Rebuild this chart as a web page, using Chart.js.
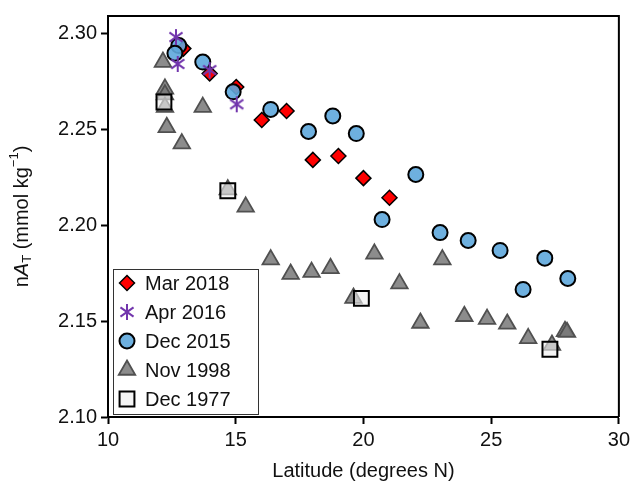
<!DOCTYPE html>
<html>
<head>
<meta charset="utf-8">
<script src="https://cdn.jsdelivr.net/npm/chart.js@4/dist/chart.umd.min.js"></script>
<style>
  html, body { margin: 0; padding: 0; background: #fff; }
</style>
</head>
<body>
<canvas id="chart" width="634" height="483"></canvas>
<script>
// values
const mar2018Lat = [12.95, 13.98, 15.02, 16.02, 16.99, 18.02, 19.02, 20.0, 21.02];
const mar2018Val = [2.292, 2.279, 2.272, 2.2548, 2.2595, 2.234, 2.236, 2.2245, 2.2143];

const apr2016Lat = [12.66, 12.73, 13.98, 15.04];
const apr2016Val = [2.298, 2.284, 2.2808, 2.263];

const dec2015Lat = [12.77, 12.62, 13.71, 14.9, 16.37, 17.85, 18.8, 19.72, 22.05, 20.73, 23.0, 24.1, 25.35, 27.1, 26.25, 28.0];
const dec2015Val = [2.2936, 2.2896, 2.285, 2.2695, 2.2603, 2.2488, 2.2569, 2.2477, 2.2264, 2.2029, 2.1961, 2.192, 2.1868, 2.1828, 2.1665, 2.1722];

const nov1998Lat = [12.15, 12.23, 12.23, 12.23, 12.3, 12.89, 13.71, 14.69, 15.39, 16.37, 17.15, 17.97, 18.71, 19.61, 20.43, 21.41, 22.23, 23.09, 23.95, 24.84, 25.63, 26.45, 27.38, 27.89, 27.97];
const nov1998Val = [2.285, 2.271, 2.268, 2.2615, 2.251, 2.2425, 2.2615, 2.2185, 2.2095, 2.182, 2.1745, 2.1755, 2.1775, 2.162, 2.185, 2.1695, 2.149, 2.182, 2.1525, 2.151, 2.1485, 2.141, 2.1375, 2.1447, 2.1442];

const dec1977Lat = [12.19, 14.69, 19.92, 27.3];
const dec1977Val = [2.2642, 2.2179, 2.1618, 2.1353];

const xTicks = [10, 15, 20, 25, 30];
const yTicks = [2.10, 2.15, 2.20, 2.25, 2.30];

const FONT = 'Liberation Sans, Arial, sans-serif';
const toPoints = (xs, ys) => xs.map((x, i) => ({ x: x, y: ys[i] }));

// six-armed asterisk marker
function makeAsterisk(size, color) {
    const c = document.createElement('canvas');
    c.width = size; c.height = size;
    const g = c.getContext('2d');
    const r = size / 2 - 1;
    g.strokeStyle = color;
    g.lineWidth = 2;
    g.translate(size / 2, size / 2);
    [0, 55, -55].forEach(deg => {
        const a = deg * Math.PI / 180;
        g.beginPath();
        g.moveTo(Math.sin(a) * r, -Math.cos(a) * r);
        g.lineTo(-Math.sin(a) * r, Math.cos(a) * r);
        g.stroke();
    });
    return c;
}
const asterisk = makeAsterisk(18, '#7236ad');

const datasets = [
    { label: 'Mar 2018', data: toPoints(mar2018Lat, mar2018Val), pointStyle: 'rectRot', pointRadius: 7.5,
      backgroundColor: '#ff0000', borderColor: '#000', borderWidth: 1.5, order: 2 },
    { label: 'Apr 2016', data: toPoints(apr2016Lat, apr2016Val), pointStyle: asterisk, pointRadius: 9,
      backgroundColor: '#7236ad', borderColor: '#7236ad', borderWidth: 0, order: 0 },
    { label: 'Dec 2015', data: toPoints(dec2015Lat, dec2015Val), pointStyle: 'circle', pointRadius: 7.5,
      backgroundColor: 'rgba(94,167,220,0.9)', borderColor: '#000', borderWidth: 2, order: 1 },
    { label: 'Nov 1998', data: toPoints(nov1998Lat, nov1998Val), pointStyle: 'triangle', pointRadius: 9.5,
      backgroundColor: 'rgba(120,120,120,0.85)', borderColor: '#505050', borderWidth: 1.8, order: 4 },
    { label: 'Dec 1977', data: toPoints(dec1977Lat, dec1977Val), pointStyle: 'rect', pointRadius: 10.5,
      backgroundColor: 'rgba(238,238,238,0.6)', borderColor: '#000', borderWidth: 2, order: 3 }
];

// frame, rotated y title with sub/superscript, legend inside the plot
const extras = {
    id: 'extras',
    afterDraw(chart) {
        const ctx = chart.ctx;
        const a = chart.chartArea;
        ctx.save();
        ctx.strokeStyle = '#000';
        ctx.lineWidth = 2;
        ctx.beginPath();
        ctx.moveTo(a.left, a.top);
        ctx.lineTo(a.right, a.top);
        ctx.lineTo(a.right, a.bottom);
        ctx.stroke();

        // y title
        const parts = [
            { t: 'n', f: '20px ' + FONT, dy: 0 },
            { t: 'A', f: 'italic 20px ' + FONT, dy: 0 },
            { t: 'T', f: '13px ' + FONT, dy: 5 },
            { t: ' (mmol kg', f: '20px ' + FONT, dy: 0 },
            { t: '\u22121', f: '13px ' + FONT, dy: -8 },
            { t: ')', f: '20px ' + FONT, dy: 0 }
        ];
        let total = 0;
        parts.forEach(p => { ctx.font = p.f; p.w = ctx.measureText(p.t).width; total += p.w; });
        ctx.translate(22, (a.top + a.bottom) / 2);
        ctx.rotate(-Math.PI / 2);
        ctx.fillStyle = '#111';
        ctx.textBaseline = 'middle';
        let px = -total / 2;
        parts.forEach(p => { ctx.font = p.f; ctx.fillText(p.t, px, p.dy); px += p.w; });
        ctx.restore();

        // legend
        ctx.save();
        const bx = 113, by = 269, bw = 145, bh = 145;
        ctx.fillStyle = '#fff';
        ctx.fillRect(bx, by, bw, bh);
        ctx.strokeStyle = '#333';
        ctx.lineWidth = 1;
        ctx.strokeRect(bx + 0.5, by + 0.5, bw, bh);
        const legendOrder = [0, 1, 2, 3, 4];
        legendOrder.forEach((di, i) => {
            const ds = chart.data.datasets[di];
            const y = by + 14 + i * 29;
            ctx.fillStyle = ds.backgroundColor;
            ctx.strokeStyle = ds.borderColor;
            ctx.lineWidth = ds.borderWidth;
            Chart.helpers.drawPoint(ctx, { pointStyle: ds.pointStyle, radius: ds.pointRadius, rotation: 0, borderWidth: ds.borderWidth }, 127, y);
            ctx.fillStyle = '#111';
            ctx.font = '20px ' + FONT;
            ctx.textBaseline = 'middle';
            ctx.textAlign = 'left';
            ctx.fillText(ds.label, 145, y + 1);
        });
        ctx.restore();
    }
};

new Chart(document.getElementById('chart'), {
    type: 'scatter',
    data: { datasets: datasets },
    options: {
        responsive: false,
        animation: false,
        layout: { padding: { left: 38, right: 14, top: 15, bottom: 0 } },
        plugins: { legend: { display: false }, tooltip: { enabled: false } },
        scales: {
            x: {
                type: 'linear', min: 10, max: 30,
                afterFit(scale) { scale.height = 66; },
                afterBuildTicks(scale) { scale.ticks = xTicks.map(v => ({ value: v })); },
                ticks: { font: { family: FONT, size: 20 }, color: '#111', padding: 4, maxRotation: 0 },
                grid: { display: true, drawOnChartArea: false, drawTicks: true, tickLength: 7, tickWidth: 2, tickColor: '#000' },
                border: { display: true, color: '#000', width: 2 },
                title: { display: true, text: 'Latitude (degrees N)', font: { family: FONT, size: 20 }, color: '#111', padding: { top: 5, bottom: 0 } }
            },
            y: {
                type: 'linear', min: 2.10, max: 2.309,
                afterFit(scale) { scale.width = 70; },
                afterBuildTicks(scale) { scale.ticks = yTicks.map(v => ({ value: v })); },
                ticks: { font: { family: FONT, size: 20 }, color: '#111', padding: 4, callback: v => v.toFixed(2) },
                grid: { display: true, drawOnChartArea: false, drawTicks: true, tickLength: 7, tickWidth: 2, tickColor: '#000' },
                border: { display: true, color: '#000', width: 2 }
            }
        }
    },
    plugins: [extras]
});
</script>
</body>
</html>
